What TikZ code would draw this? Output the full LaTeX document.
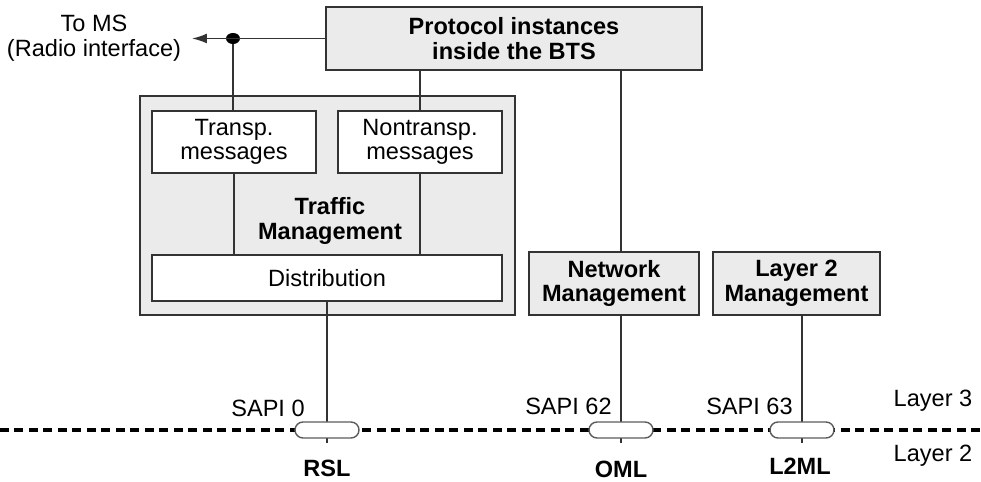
\documentclass[tikz,border=0pt]{standalone}
\usepackage{fontspec}
\setmainfont{Liberation Sans}
\usetikzlibrary{arrows.meta, shapes.geometric}

\definecolor{boxgray}{gray}{0.92}
\definecolor{linegray}{gray}{0.2}
\newcommand{\diafont}{\fontsize{13.4}{14}\selectfont}

\tikzset{
  graybox/.style={draw=linegray, line width=1pt, fill=boxgray, align=center,
    font=\diafont\bfseries, inner sep=0pt},
  whitebox/.style={draw=linegray, line width=1pt, fill=white, align=center,
    font=\diafont, inner sep=0pt},
  pill/.style={draw=linegray!80, line width=0.8pt, fill=white, rounded corners=0.16cm,
    minimum width=1.28cm, minimum height=0.32cm, inner sep=0pt},
  link/.style={linegray, line width=0.9pt}
}

\begin{document}
\begin{tikzpicture}[x=0.02cm, y=-0.02cm, font=\diafont]
  \useasboundingbox (0,0) rectangle (981,482);

  % boxes
  \node[graybox, minimum width=7.52cm, minimum height=1.26cm] (protocol) at (514,38.5) {Protocol instances\\inside the BTS};
  \node[graybox, minimum width=7.5cm, minimum height=4.38cm] (traffic) at (327.5,205.5) {};
  \node[whitebox, minimum width=3.28cm, minimum height=1.24cm] (transp) at (234,142) {Transp.\\messages};
  \node[whitebox, minimum width=3.28cm, minimum height=1.24cm] (nontransp) at (420,142) {Nontransp.\\messages};
  \node[whitebox, minimum width=7cm, minimum height=0.92cm] (dist) at (327,278) {Distribution};
  \node[font=\diafont\bfseries, align=center] (tmlabel) at (330,221) {Traffic\\Management};
  \node[graybox, minimum width=3.4cm, minimum height=1.26cm] (network) at (614,283.5) {Network\\Management};
  \node[graybox, minimum width=3.34cm, minimum height=1.26cm] (l2m) at (796.5,283.5) {Layer 2\\Management};

  % radio side
  \node[align=center] (toms) at (94,38) {To MS\\(Radio interface)};
  \coordinate (msend) at (192,38.5);
  \node[ellipse, fill=black, inner sep=0pt, minimum width=0.28cm, minimum height=0.22cm] (dot) at (233,38.5) {};
  \draw[link, -{Latex[length=0.3cm,width=0.2cm]}] (protocol.west) -- (msend);
  \draw[link] (dot) -- (transp.north -| dot);

  % links
  \coordinate (rslend) at (327,443);
  \coordinate (omlend) at (621,443);
  \coordinate (l2mlend) at (802,443);
  \draw[link] (protocol.south -| nontransp) -- (nontransp.north);
  \draw[link] (transp.south) -- (dist.north -| transp);
  \draw[link] (nontransp.south) -- (dist.north -| nontransp);
  \draw[link] (protocol.south -| omlend) -- (network.north -| omlend);
  \draw[link] (network.south -| omlend) -- (omlend);
  \draw[link] (l2m.south -| l2mlend) -- (l2mlend);
  \draw[link] (dist.south) -- (rslend);

  % layer border
  \draw[black, line width=2.2pt, dash pattern=on 0.18cm off 0.11cm] (0,430) -- (981,430);
  \foreach \px/\nm in {327/rsl, 621/oml, 802/l2ml}
    \node[pill] (\nm) at (\px,430) {};

  \node[anchor=base east, inner sep=0pt] (sapi0) at (305,417) {SAPI 0};
  \node[anchor=base east, inner sep=0pt] (sapi62) at (612,415) {SAPI 62};
  \node[anchor=base east, inner sep=0pt] (sapi63) at (793,415) {SAPI 63};
  \node[anchor=base, inner sep=0pt, font=\diafont\bfseries] (rsllabel) at (327,477) {RSL};
  \node[anchor=base, inner sep=0pt, font=\diafont\bfseries] (omllabel) at (621,478) {OML};
  \node[anchor=base, inner sep=0pt, font=\diafont\bfseries] (l2mllabel) at (800,475) {L2ML};
  \node[anchor=base, inner sep=0pt] (layer3) at (933,407) {Layer 3};
  \node[anchor=base, inner sep=0pt] (layer2) at (933,462) {Layer 2};
\end{tikzpicture}
\end{document}
